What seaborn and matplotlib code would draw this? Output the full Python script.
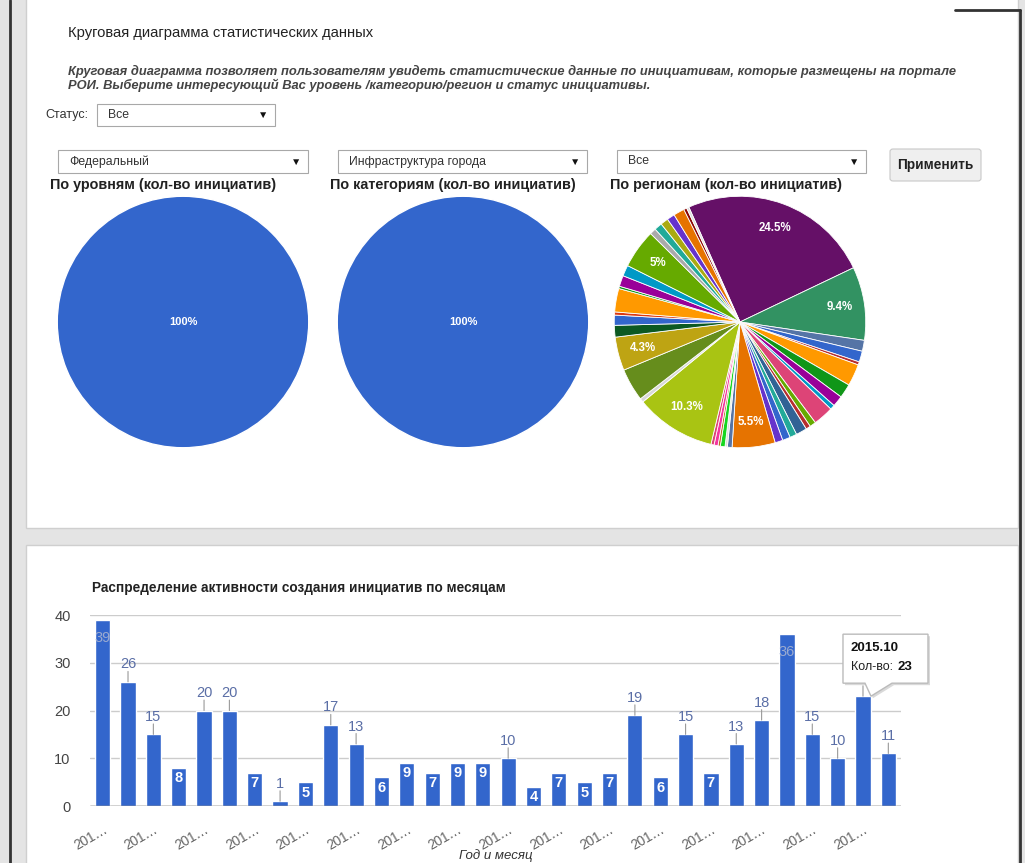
import matplotlib
matplotlib.use("Agg")
import matplotlib.pyplot as plt
import matplotlib.patches as mpatches
import matplotlib.transforms as mtransforms
import seaborn as sns

W, H = 1025, 863

# --- data ---
status_value = "Все"
level_value = "Федеральный"
category_value = "Инфраструктура города"
region_value = "Все"

level_shares = [100]
category_shares = [100]

# regions, clockwise from the largest slice
region_shares = [24.5, 9.4, 1.4, 1.4, 0.4, 2.8, 1.8, 1.4, 0.6, 2.6, 0.8, 0.6, 1.4, 0.9,
                 1.0, 1.0, 5.5, 0.6, 0.3, 0.6, 0.3, 0.5, 0.4, 10.3, 0.5, 4.2, 4.3, 1.5,
                 1.3, 0.4, 3.0, 0.3, 1.4, 1.4, 5.0, 0.8, 1.0, 1.0, 1.0, 1.4, 0.4, 0.3]
region_colors = ["#651067", "#329262", "#5574a6", "#3366cc", "#b82e2e", "#ff9900", "#109618",
                 "#990099", "#0099c6", "#dd4477", "#66aa00", "#b82e2e", "#316395", "#22aa99",
                 "#3366cc", "#6633cc", "#e67300", "#5574a6", "#dddddd", "#16d620", "#b77322",
                 "#f4359e", "#dd4477", "#a9c413", "#d8d8d8", "#668d1c", "#bea413", "#0c5922",
                 "#3366cc", "#dc3912", "#ff9900", "#109618", "#990099", "#0099c6", "#66aa00",
                 "#aaaaaa", "#22aa99", "#aaaa11", "#6633cc", "#e67300", "#8b0707", "#dddddd"]

months = ["2013.04", "2013.05", "2013.06", "2013.07", "2013.08", "2013.09", "2013.10", "2013.11",
          "2013.12", "2014.01", "2014.02", "2014.03", "2014.04", "2014.05", "2014.06", "2014.07",
          "2014.08", "2014.09", "2014.10", "2014.11", "2014.12", "2015.01", "2015.02", "2015.03",
          "2015.04", "2015.05", "2015.06", "2015.07", "2015.08", "2015.09", "2015.10", "2015.11"]
counts = [39, 26, 15, 8, 20, 20, 7, 1, 5, 17, 13, 6, 9, 7, 9, 9,
          10, 4, 7, 5, 7, 19, 6, 15, 7, 13, 18, 36, 15, 10, 23, 11]
tooltip_month = "2015.10"

BLUE = "#3366cc"


def rect(x0, y0, x1, y1):
    return [x0 / W, 1 - y1 / H, (x1 - x0) / W, (y1 - y0) / H]


def fx(x):
    return x / W


def fy(y):
    return 1 - y / H


sns.set_theme(style="white")
plt.rcParams["font.family"] = ["Liberation Sans", "DejaVu Sans"]

fig = plt.figure(figsize=(W / 100, H / 100), dpi=100, facecolor="#e4e4e4")

# page panels and screenshot frame (behind the axes)
for y0, y1 in [(-5, 528), (545, 870)]:
    fig.add_artist(mpatches.Rectangle((fx(26), fy(y1)), (1018 - 26) / W, (y1 - y0) / H,
                                      transform=fig.transFigure, fc="white", ec="#cfcfcf", lw=1,
                                      zorder=-10))
for xs, ys in [([10, 10], [0, 863]), ([955, 1020], [10, 10]), ([1020, 1020], [10, 863])]:
    fig.add_artist(plt.Line2D([fx(x) for x in xs], [fy(y) for y in ys], color="#333333", lw=2,
                              zorder=-5))

# --- header texts ---
fig.text(fx(68), fy(33), "Круговая диаграмма статистических данных", fontsize=10.6,
         color="#222222", va="center")
fig.text(fx(68), fy(71), "Круговая диаграмма позволяет пользователям увидеть статистические данные "
         "по инициативам, которые размещены на портале", fontsize=9.25, style="italic",
         weight="bold", color="#444444", va="center")
fig.text(fx(68), fy(85), "РОИ. Выберите интересующий Вас уровень /категорию/регион и статус инициативы.",
         fontsize=9.25, style="italic", weight="bold", color="#444444", va="center")


def dropdown(x0, y0, x1, y1, text):
    fig.add_artist(mpatches.Rectangle((fx(x0), fy(y1)), (x1 - x0) / W, (y1 - y0) / H,
                                      transform=fig.transFigure, fc="white", ec="#a8a8a8", lw=0.8))
    fig.text(fx(x0 + 11), fy((y0 + y1) / 2), text, fontsize=8.8, color="#333333", va="center")
    fig.text(fx(x1 - 12), fy((y0 + y1) / 2), "▼", fontsize=7.5, color="#111111",
             va="center", ha="center")


fig.text(fx(45), fy(115), "Статус:", fontsize=9, color="#333333", va="center")
dropdown(97, 104, 275, 126, status_value)
dropdown(58, 150, 308, 173, level_value)
dropdown(338, 150, 587, 173, category_value)
dropdown(617, 150, 866, 173, region_value)

fig.add_artist(mpatches.FancyBboxPatch((fx(890), fy(181)), (981 - 890) / W, (181 - 149) / H,
                                       boxstyle="round,pad=0,rounding_size=0.003",
                                       transform=fig.transFigure, fc="#efefef", ec="#c8c8c8", lw=0.8))
fig.text(fx(935.5), fy(165), "Применить", fontsize=9.8, weight="bold", color="#222222",
         ha="center", va="center")

# --- pies ---
pies = [
    ("По уровням (кол-во инициатив)", 50, 183, level_shares, [BLUE]),
    ("По категориям (кол-во инициатив)", 330, 463, category_shares, [BLUE]),
    ("По регионам (кол-во инициатив)", 610, 740, region_shares, region_colors),
]
R = 127
CY = 322
for title, tx, cx, shares, colors in pies:
    fig.text(fx(tx), fy(185), title, fontsize=10.4, weight="bold", color="#222222", va="center")
    ax = fig.add_axes(rect(cx - R, CY - R, cx + R, CY + R))
    if len(shares) == 1:
        ax.pie(shares, colors=colors, autopct="%d%%", pctdistance=0,
               textprops=dict(color="white", fontsize=8, weight="bold"))
    else:
        labels = [f"{s:g}%" if s >= 4.3 else "" for s in shares]
        ax.pie(shares, colors=colors, labels=labels, labeldistance=0.8, startangle=114,
               counterclock=False, wedgeprops=dict(edgecolor="white", linewidth=0.6),
               textprops=dict(color="white", fontsize=8.3, weight="bold", ha="center", va="center"))
    ax.set_xlim(-1.01, 1.01)
    ax.set_ylim(-1.01, 1.01)
    ax.set_aspect("equal")
    ax.axis("off")

# --- monthly bar chart ---
fig.text(fx(92), fy(588), "Распределение активности создания инициатив по месяцам", fontsize=9.8,
         weight="bold", color="#222222", va="center")

ax = fig.add_axes(rect(90, 615, 901, 806))
sns.barplot(x=months, y=counts, color=BLUE, saturation=1, width=0.6, ax=ax, zorder=2)
ax.set_xlim(-0.5, len(months) - 0.5)
ax.set_ylim(0, 40)
ax.set_yticks([0, 10, 20, 30, 40])
ax.yaxis.grid(True, color="#cccccc", lw=1, zorder=0)
ax.set_axisbelow(True)
ax.patch.set_alpha(0)
for s in ax.spines.values():
    s.set_visible(False)
ax.axhline(0, color="#444444", lw=1, zorder=3)
ax.tick_params(axis="y", length=0, pad=14, labelsize=10.5, labelcolor="#444444")
ax.set_xticks(range(0, len(months), 2))
ax.set_xticklabels([m[:3] + "…" for m in months[::2]], rotation=30, ha="right",
                   rotation_mode="anchor", fontsize=9.8, color="#666666")
ax.tick_params(axis="x", length=0, pad=12)
ax.set_xlabel("Год и месяц", fontsize=9.5, style="italic", color="#333333", labelpad=-3)
ax.set_ylabel("")

label_color = "#5a6ea6"
for i, v in enumerate(counts):
    if 4 <= v <= 9:
        ax.annotate(str(v), xy=(i, v), xytext=(0, -7.5), textcoords="offset points",
                    ha="center", va="center", color="white", fontsize=10.5, weight="bold", zorder=4)
    elif v >= 30:
        ax.annotate(str(v), xy=(i, v), xytext=(0, -13), textcoords="offset points",
                    ha="center", va="center", color="#9aaad0", fontsize=10.5, zorder=4)
    else:
        ax.annotate("", xy=(i, v), xytext=(0, 7.5), textcoords="offset points",
                    arrowprops=dict(arrowstyle="-", color="#999999", lw=0.8, shrinkA=0, shrinkB=0))
        ax.annotate(str(v), xy=(i, v), xytext=(0, 12.5), textcoords="offset points",
                    ha="center", va="center", color=label_color, fontsize=10.5, zorder=4)

# tooltip for the selected month
ti = months.index(tooltip_month)
tv = counts[ti]
axp, ayp = ax.transData.transform((ti, tv))
tip = [(-20, 62), (65, 62), (65, 13), (29, 13), (8, 0), (2, 13), (-20, 13)]
shadow = mpatches.Polygon([(axp + dx + 2, ayp + dy - 2) for dx, dy in tip], closed=True,
                          transform=mtransforms.IdentityTransform(), fc="#d9d9d9", ec="none", zorder=9)
box = mpatches.Polygon([(axp + dx, ayp + dy) for dx, dy in tip], closed=True,
                       transform=mtransforms.IdentityTransform(), fc="white", ec="#bbbbbb", lw=1, zorder=10)
fig.add_artist(shadow)
fig.add_artist(box)
fig.text((axp - 12) / W, (ayp + 48) / H, tooltip_month, fontsize=9.5, weight="bold",
         color="#111111", va="center", zorder=11)
fig.text((axp - 12) / W, (ayp + 29) / H, "Кол-во:", fontsize=9, color="#222222",
         va="center", zorder=11)
fig.text((axp + 35) / W, (ayp + 29) / H, str(tv), fontsize=9.5, weight="bold",
         color="#111111", va="center", zorder=11)

fig.savefig("out.png", dpi=100, facecolor=fig.get_facecolor())
